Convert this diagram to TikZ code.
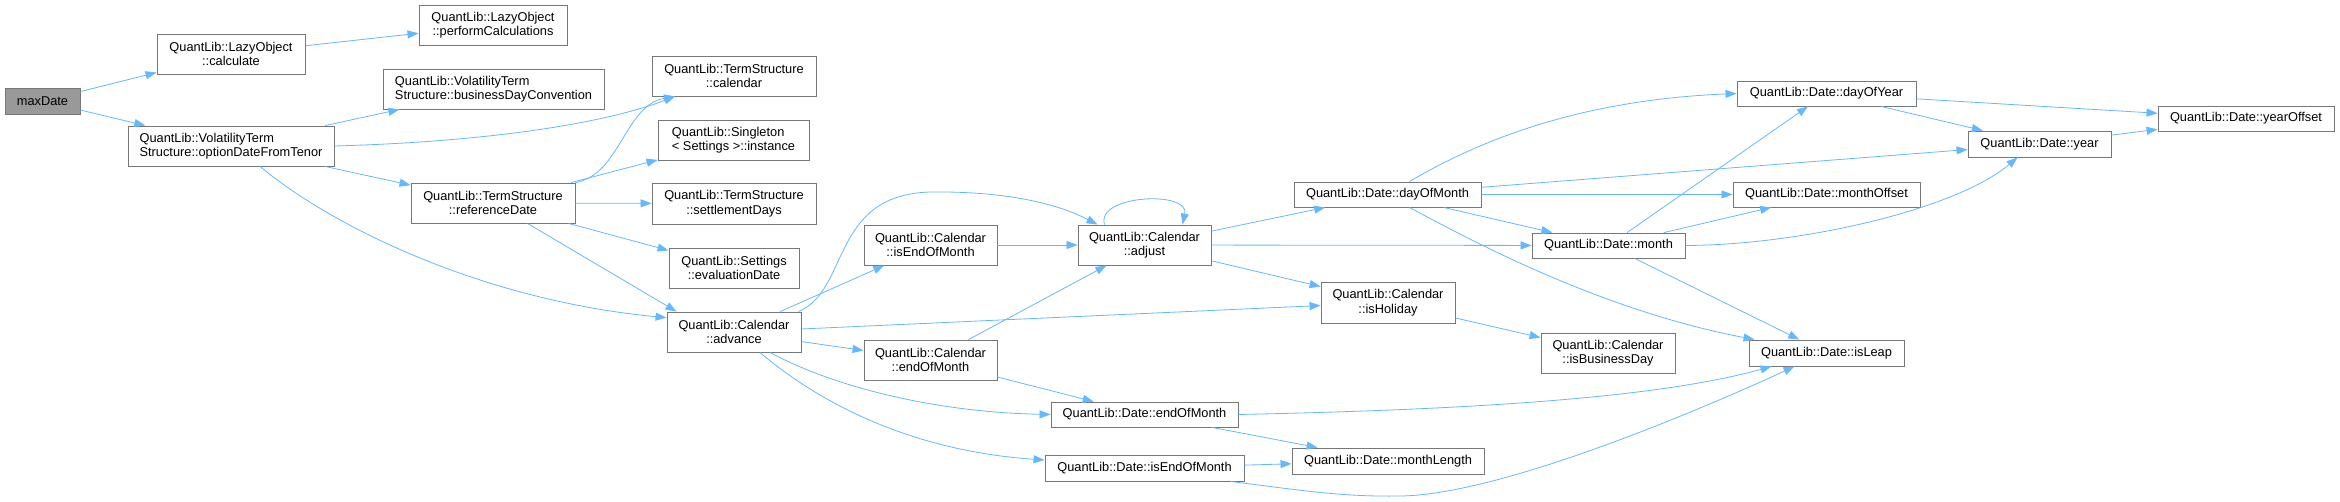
\documentclass[tikz,border=0pt]{standalone}
\usepackage{fontspec}
\setmainfont{Liberation Sans}
\usetikzlibrary{arrows.meta}
\definecolor{callblue}{HTML}{63B8FF}
\definecolor{boxgray}{HTML}{777777}
\definecolor{rootgray}{HTML}{999999}
\newcommand{\callfont}{\fontsize{12.8}{14.5}\selectfont}

\begin{document}
\begin{tikzpicture}[x=1pt, y=-1pt,
  fn/.style={draw=boxgray, fill=white, line width=0.9pt, inner sep=0pt, align=center, font=\callfont},
  root/.style={fn, fill=rootgray},
  wh/.style 2 args={minimum width=#1pt, minimum height=#2pt},
  call/.style={draw=callblue, line width=0.8pt, -{Triangle[length=11pt,width=8pt]}}]
  \useasboundingbox (0,0) rectangle (2340,501);
  % functions, one column per call depth
  \node[root, wh={75}{26}] (maxd) at (42.5,101) {maxDate};
  \node[fn, wh={148}{40}] (calc) at (231,54) {QuantLib::LazyObject\\::calculate};
  \node[fn, wh={206}{40}, align=left] (odft) at (231,146) {QuantLib::VolatilityTerm\\Structure::optionDateFromTenor};
  \node[fn, wh={148}{40}] (perf) at (493,25) {QuantLib::LazyObject\\::performCalculations};
  \node[fn, wh={221}{40}, align=left] (bdc) at (493.5,89) {QuantLib::VolatilityTerm\\Structure::businessDayConvention};
  \node[fn, wh={164}{40}] (refd) at (493,203) {QuantLib::TermStructure\\::referenceDate};
  \node[fn, wh={164}{40}] (tscal) at (734,76) {QuantLib::TermStructure\\::calendar};
  \node[fn, wh={151}{40}, align=left] (inst) at (733.5,140) {QuantLib::Singleton\\< Settings >::instance};
  \node[fn, wh={164}{41}] (sdays) at (734,203.5) {QuantLib::TermStructure\\::settlementDays};
  \node[fn, wh={130}{40}] (evald) at (734,268) {QuantLib::Settings\\::evaluationDate};
  \node[fn, wh={134}{40}] (adv) at (734,332) {QuantLib::Calendar\\::advance};
  \node[fn, wh={133}{40}] (ceom) at (930.5,245) {QuantLib::Calendar\\::isEndOfMonth};
  \node[fn, wh={133}{40}] (cend) at (930.5,360) {QuantLib::Calendar\\::endOfMonth};
  \node[fn, wh={133}{40}] (adj) at (1144.5,245) {QuantLib::Calendar\\::adjust};
  \node[fn, wh={187}{25}] (dend) at (1144.5,414.5) {QuantLib::Date::endOfMonth};
  \node[fn, wh={199}{26}] (disend) at (1144.5,468) {QuantLib::Date::isEndOfMonth};
  \node[fn, wh={187}{25}] (dom) at (1387.5,194.5) {QuantLib::Date::dayOfMonth};
  \node[fn, wh={134}{41}] (hol) at (1388,302.5) {QuantLib::Calendar\\::isHoliday};
  \node[fn, wh={192}{26}] (mlen) at (1388,461) {QuantLib::Date::monthLength};
  \node[fn, wh={153}{25}] (month) at (1608.5,245.5) {QuantLib::Date::month};
  \node[fn, wh={134}{40}] (bday) at (1608,353) {QuantLib::Calendar\\::isBusinessDay};
  \node[fn, wh={179}{25}] (doy) at (1826.5,93.5) {QuantLib::Date::dayOfYear};
  \node[fn, wh={187}{25}] (moff) at (1826.5,194.5) {QuantLib::Date::monthOffset};
  \node[fn, wh={155}{26}] (leap) at (1826.5,353) {QuantLib::Date::isLeap};
  \node[fn, wh={143}{26}] (year) at (2039.5,144) {QuantLib::Date::year};
  \node[fn, wh={176}{25}] (yoff) at (2246,118.5) {QuantLib::Date::yearOffset};
  % straight calls
  \foreach \a/\b in {maxd/calc, maxd/odft, calc/perf, odft/bdc, odft/refd,
      refd/inst, refd/sdays, refd/evald, adv/ceom, adv/hol, adv/cend,
      ceom/adj, cend/adj, cend/dend, adj/dom, adj/month, adj/hol,
      dom/moff, dom/month, dom/year, month/doy, month/moff, month/leap,
      doy/year, doy/yoff, year/yoff, hol/bday, dend/mlen, disend/mlen}
    \draw[call] (\a) -- (\b);
  \draw[call] (refd) -- ([xshift=10pt]adv.north west);
  % curved calls
  \draw[call] (odft.east) .. controls (480,142) and (600,125) .. ([xshift=-59pt]tscal.south);
  \draw[call] (refd.north east) .. controls (620,175) and (625,105) .. ([xshift=-59pt]tscal.south);
  \draw[call] ([xshift=29pt]odft.south) .. controls (330,225) and (480,300) .. (adv.168);
  \draw[call] ([xshift=-3pt]adv.north east) .. controls (850,290) and (830,195) .. (930,192)
    .. controls (1010,191) and (1060,205) .. ([xshift=-47pt]adj.north);
  \draw[call] ([xshift=36pt]adv.south) .. controls (830,385) and (930,412) .. (dend.west);
  \draw[call] ([xshift=26pt]adv.south) .. controls (810,395) and (900,450) .. ([yshift=8pt]disend.west);
  \draw[call] ([xshift=-40pt]adj.north) .. controls (1095,195) and (1190,190) .. ([xshift=38pt]adj.north);
  \draw[call] ([xshift=22pt]dom.north) .. controls (1480,140) and (1580,100) .. (doy.west);
  \draw[call] ([xshift=22pt]dom.south) .. controls (1470,240) and (1600,310) .. ([xshift=6pt]leap.north west);
  \draw[call] (month.east) .. controls (1800,245) and (1955,210) .. ([xshift=-22pt]year.south);
  \draw[call] (dend.east) .. controls (1450,410) and (1650,400) .. ([xshift=-55pt]leap.south);
  \draw[call] ([xshift=-14pt]disend.south east) .. controls (1300,490) and (1340,497) .. (1400,496)
    .. controls (1500,495) and (1700,410) .. ([xshift=-32pt]leap.south);
\end{tikzpicture}
\end{document}
